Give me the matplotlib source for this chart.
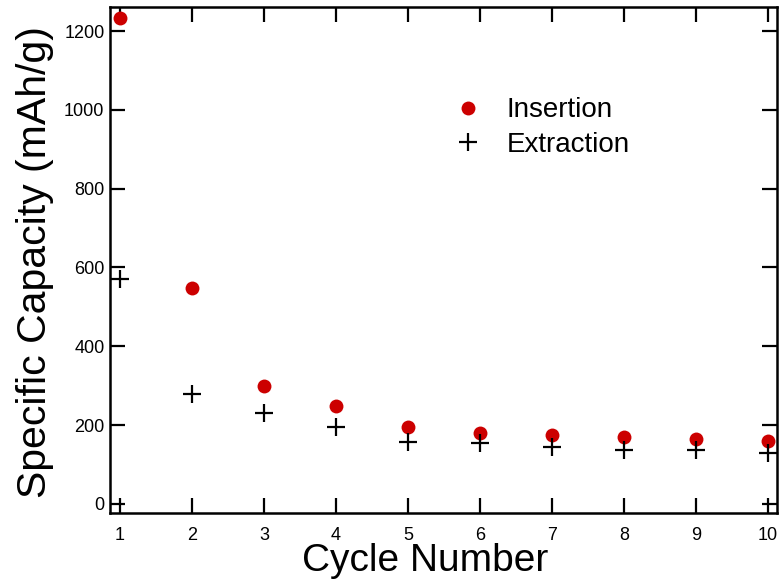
import numpy as np
import matplotlib.pyplot as plt

plt.rcParams['font.family'] = ['Liberation Sans', 'DejaVu Sans']

# cycle data
cycles = [1, 2, 3, 4, 5, 6, 7, 8, 9, 10]
insertion = [1233, 548, 300, 249, 196, 179, 175, 170, 165, 159]
extraction = [570, 278, 232, 195, 158, 154, 145, 137, 137, 130]

y_ticks = [0, 200, 400, 600, 800, 1000, 1200]

fig = plt.figure(figsize=(7.81, 5.84), dpi=100)
ax = fig.add_axes([110 / 781, 1 - 513 / 584, 667 / 781, 506 / 584])

ax.plot(cycles, insertion, 'o', color='#cc0000', markersize=10,
        markeredgewidth=0, label='Insertion')
ax.plot(cycles, extraction, '+', color='black', markersize=13,
        markeredgewidth=1.6, label='Extraction')

ax.set_xlim(0.86, 10.125)
ax.set_ylim(-23, 1261)
ax.set_xticks(cycles)
ax.set_yticks(y_ticks)

for s in ax.spines.values():
    s.set_linewidth(1.8)

ax.tick_params(direction='in', length=11, width=1.6, labelsize=13,
               top=True, right=True)
ax.tick_params(axis='x', pad=10)
ax.tick_params(axis='y', pad=4)

ax.set_xlabel('Cycle Number', fontsize=28, labelpad=0)
ax.xaxis.set_label_coords(0.472, -0.059, transform=ax.transAxes)
ax.xaxis.label.set_verticalalignment('top')
ax.set_ylabel('Specific Capacity (mAh/g)', fontsize=29.5, labelpad=7)
ax.yaxis.label.set_y(0.495)

ax.legend(loc='upper left', bbox_to_anchor=(0.4945, 0.849), frameon=False,
          fontsize=20, handlelength=1.0, handletextpad=0.9,
          labelspacing=0.3, borderpad=0)

plt.savefig('out.png', dpi=100)
